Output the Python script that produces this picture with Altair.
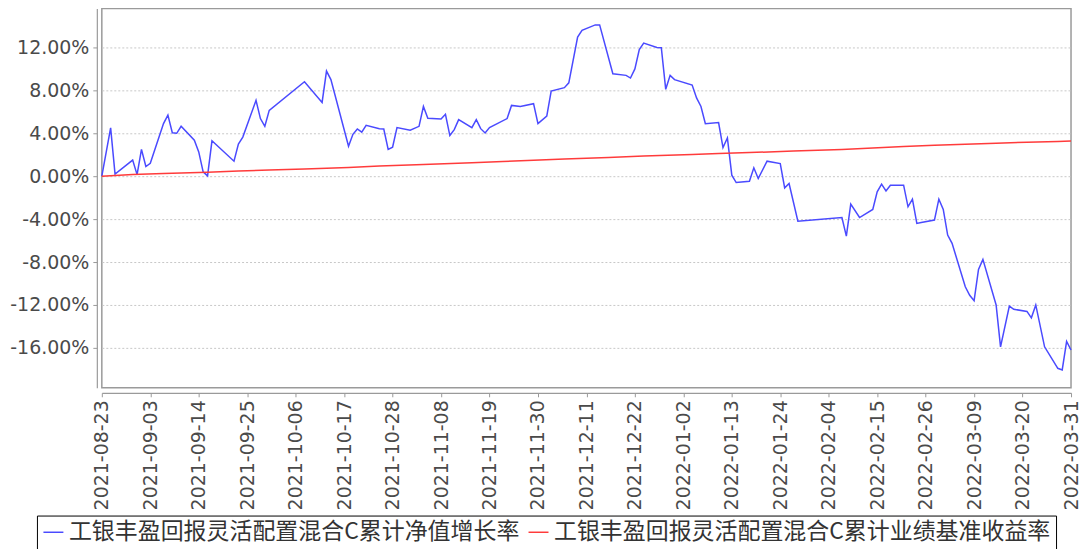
import altair as alt
import pandas as pd

NAME_FUND = "工银丰盈回报灵活配置混合C累计净值增长率"
NAME_BENCH = "工银丰盈回报灵活配置混合C累计业绩基准收益率"

fund_dates = [
    "2021-08-23", "2021-08-25", "2021-08-26", "2021-08-30", "2021-08-31",
    "2021-09-01", "2021-09-02", "2021-09-03", "2021-09-06", "2021-09-07", "2021-09-08", "2021-09-09", "2021-09-10",
    "2021-09-13", "2021-09-14", "2021-09-15", "2021-09-16", "2021-09-17", "2021-09-22", "2021-09-23", "2021-09-24",
    "2021-09-27", "2021-09-28", "2021-09-29", "2021-09-30",
    "2021-10-08", "2021-10-12", "2021-10-13", "2021-10-14", "2021-10-18", "2021-10-19", "2021-10-20", "2021-10-21",
    "2021-10-22", "2021-10-25", "2021-10-26", "2021-10-27", "2021-10-28", "2021-10-29",
    "2021-11-01", "2021-11-03", "2021-11-04", "2021-11-05", "2021-11-08", "2021-11-09", "2021-11-10", "2021-11-11",
    "2021-11-12", "2021-11-15", "2021-11-16", "2021-11-17", "2021-11-18", "2021-11-19", "2021-11-23", "2021-11-24",
    "2021-11-26", "2021-11-29", "2021-11-30",
    "2021-12-02", "2021-12-03", "2021-12-06", "2021-12-07", "2021-12-09", "2021-12-10", "2021-12-13", "2021-12-14",
    "2021-12-17", "2021-12-20", "2021-12-21", "2021-12-22", "2021-12-23", "2021-12-24", "2021-12-27", "2021-12-28",
    "2021-12-29", "2021-12-30", "2021-12-31",
    "2022-01-04", "2022-01-05", "2022-01-06", "2022-01-07", "2022-01-10", "2022-01-11", "2022-01-12", "2022-01-13",
    "2022-01-14", "2022-01-17", "2022-01-18", "2022-01-19", "2022-01-21", "2022-01-24", "2022-01-25", "2022-01-26",
    "2022-01-28",
    "2022-02-07", "2022-02-08", "2022-02-09", "2022-02-11", "2022-02-14", "2022-02-15", "2022-02-16", "2022-02-17",
    "2022-02-18", "2022-02-21", "2022-02-22", "2022-02-23", "2022-02-24", "2022-02-25", "2022-02-28",
    "2022-03-01", "2022-03-02", "2022-03-03", "2022-03-04", "2022-03-07", "2022-03-08", "2022-03-09", "2022-03-10",
    "2022-03-11", "2022-03-14", "2022-03-15", "2022-03-17", "2022-03-18", "2022-03-21", "2022-03-22", "2022-03-23",
    "2022-03-25", "2022-03-28", "2022-03-29", "2022-03-30", "2022-03-31",
]
fund_values = [
    0.0, 4.5, 0.2, 1.5, 0.15,
    2.5, 0.9, 1.2, 4.9, 5.7, 4.05, 4.0, 4.65,
    3.35, 2.26, 0.4, 0.03, 3.3, 1.4, 3.0, 3.65,
    7.07, 5.37, 4.65, 6.14,
    8.8, 6.88, 9.8, 9.0, 2.79, 3.9, 4.4, 4.1,
    4.74, 4.43, 4.4, 2.5, 2.7, 4.53,
    4.28, 4.65, 6.5, 5.4, 5.33, 5.77, 3.79, 4.34,
    5.27, 4.53, 5.27, 4.43, 4.03, 4.53, 5.37, 6.6,
    6.5, 6.76, 4.9,
    5.6, 7.94, 8.25, 8.7, 12.96, 13.6, 14.1, 14.1,
    9.55, 9.4, 9.15, 10.0, 11.8, 12.4, 12.0, 11.97,
    8.1, 9.4, 9.0,
    8.5, 7.3, 6.5, 4.9, 5.0, 2.67, 3.56, 0.1,
    -0.59, -0.47, 0.78, -0.22, 1.4, 1.18, -1.09, -0.68,
    -4.19,
    -3.85, -5.58, -2.6, -3.85, -3.1, -1.46, -0.74, -1.37,
    -0.84, -0.84, -2.85, -2.14, -4.4, -4.31, -4.09,
    -2.14, -3.1, -5.49, -6.26, -10.3, -11.1, -11.6, -8.68,
    -7.75, -12.0, -15.9, -12.1, -12.4, -12.6, -13.2, -12.0,
    -15.9, -17.9, -18.05, -15.4, -16.2,
]

bench_dates = [
    "2021-08-23", "2021-08-30", "2021-09-06", "2021-09-16", "2021-09-23", "2021-09-30", "2021-10-08",
    "2021-10-18", "2021-10-25", "2021-11-04", "2021-11-15", "2021-11-22", "2021-11-29", "2021-12-06",
    "2021-12-16", "2021-12-24", "2022-01-04", "2022-01-10", "2022-01-17", "2022-01-27", "2022-02-07",
    "2022-02-14", "2022-02-21", "2022-02-28", "2022-03-07", "2022-03-14", "2022-03-21", "2022-03-28",
    "2022-03-31",
]
bench_values = [
    0.0, 0.15, 0.25, 0.36, 0.48, 0.58, 0.68,
    0.82, 0.95, 1.08, 1.25, 1.38, 1.48, 1.6,
    1.75, 1.88, 2.02, 2.12, 2.2, 2.35, 2.5,
    2.62, 2.78, 2.88, 2.98, 3.08, 3.16, 3.24,
    3.28,
]

tick_dates = [
    "2021-08-23", "2021-09-03", "2021-09-14", "2021-09-25", "2021-10-06", "2021-10-17", "2021-10-28",
    "2021-11-08", "2021-11-19", "2021-11-30", "2021-12-11", "2021-12-22", "2022-01-02", "2022-01-13",
    "2022-01-24", "2022-02-04", "2022-02-15", "2022-02-26", "2022-03-09", "2022-03-20", "2022-03-31",
]
y_ticks = [-16, -12, -8, -4, 0, 4, 8, 12]

assert len(fund_dates) == len(fund_values)
assert len(bench_dates) == len(bench_values)

df = pd.concat([
    pd.DataFrame({"date": fund_dates, "value": fund_values, "series": NAME_FUND, "order": range(len(fund_dates))}),
    pd.DataFrame({"date": bench_dates, "value": bench_values, "series": NAME_BENCH, "order": range(len(bench_dates))}),
])


def dt(s):
    y, m, d = (int(p) for p in s.split("-"))
    return alt.DateTime(year=y, month=m, date=d, utc=True)


chart = alt.Chart(df).mark_line(strokeWidth=1.5).encode(
    x=alt.X(
        "date:T",
        scale=alt.Scale(type="utc", domain=[dt(tick_dates[0]), dt(tick_dates[-1])], nice=False),
        axis=alt.Axis(
            title=None,
            values=[dt(s) for s in tick_dates],
            labelExpr="utcFormat(datum.value, '%Y-%m-%d')",
            labelAngle=-90,
            labelFont="DejaVu Sans",
            labelFontSize=19,
            labelColor="#4a4a4a",
            labelPadding=3,
            labelOverlap=False,
            labelFlush=False,
            offset=5,
            domainColor="#9a9a9a",
            domainWidth=1.2,
            tickColor="#9a9a9a",
            tickSize=4,
            grid=False,
        ),
    ),
    y=alt.Y(
        "value:Q",
        scale=alt.Scale(domain=[-19.72, 15.63], nice=False, zero=False),
        axis=alt.Axis(
            title=None,
            values=y_ticks,
            labelExpr="(datum.value < 0 ? '-' : '') + format(abs(datum.value), '.2f') + '%'",
            labelFont="DejaVu Sans",
            labelFontSize=19,
            labelColor="#4a4a4a",
            labelPadding=4,
            offset=5,
            domainColor="#9a9a9a",
            domainWidth=1.2,
            tickColor="#9a9a9a",
            tickSize=4,
            grid=True,
            gridColor="#c8c8c8",
            gridDash=[2, 2],
            gridWidth=1,
        ),
    ),
    color=alt.Color(
        "series:N",
        scale=alt.Scale(domain=[NAME_FUND, NAME_BENCH], range=["#4a4aff", "#ff3b3b"]),
        legend=alt.Legend(
            title=None,
            orient="none",
            legendX=-65,
            legendY=508,
            direction="horizontal",
            symbolType="stroke",
            symbolSize=400,
            symbolStrokeWidth=1.5,
            labelFont="Noto Sans CJK SC",
            labelFontSize=23,
            labelColor="#333333",
            labelLimit=800,
            labelOffset=4,
            columnPadding=5,
            padding=5,
            strokeColor="#000000",
            fillColor="#ffffff",
        ),
    ),
    order="order:Q",
).properties(
    width=971,
    height=380,
    autosize=alt.AutoSizeParams(type="none"),
    padding={"left": 94, "top": 0, "right": 10, "bottom": 161},
).configure_view(
    stroke="#9a9a9a",
    strokeWidth=1.5,
)

chart.save("out.html", embed_options={"renderer": "svg", "actions": False})
